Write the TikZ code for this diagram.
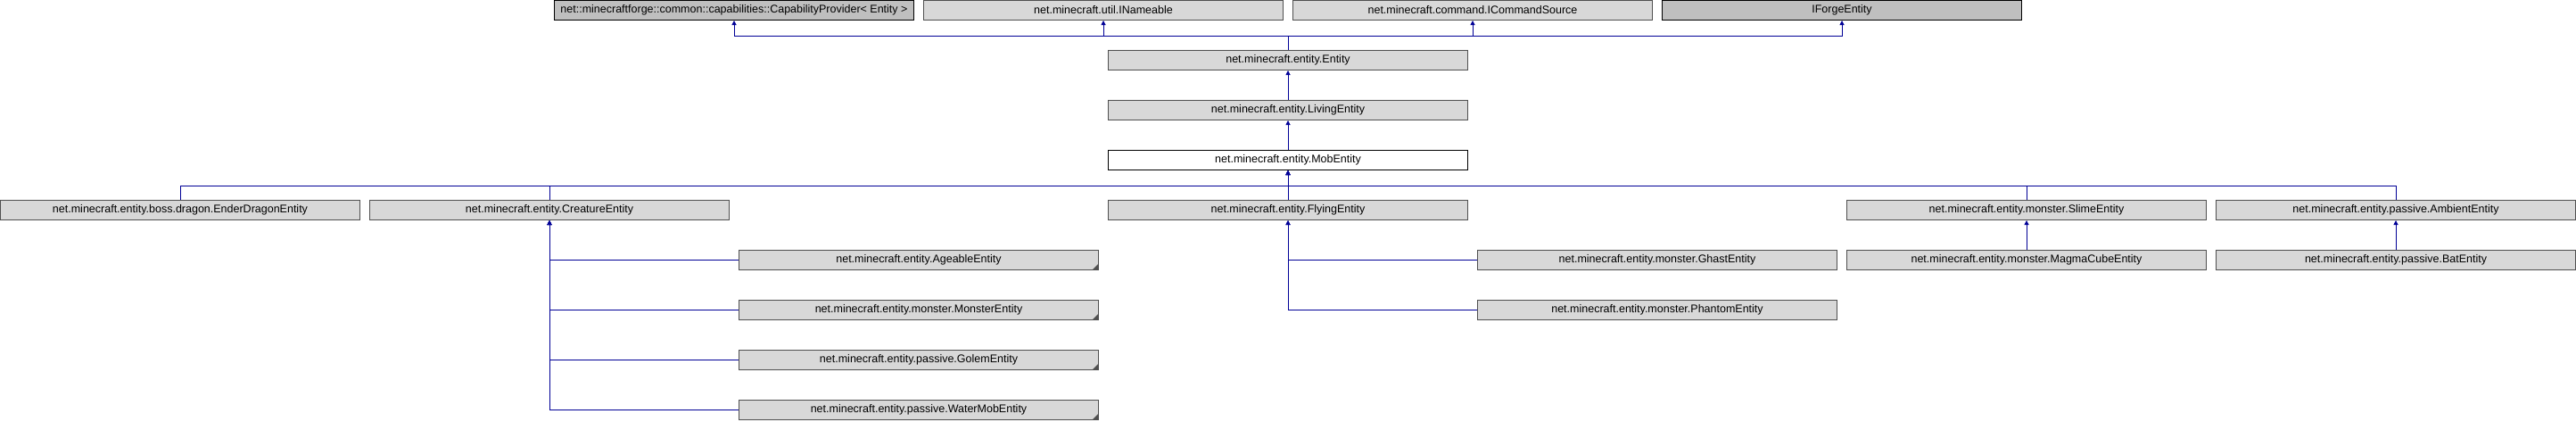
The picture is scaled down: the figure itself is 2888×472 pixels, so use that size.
\documentclass[tikz,border=0pt]{standalone}
\usepackage{fontspec}
\setmainfont{Liberation Sans}
\usetikzlibrary{arrows.meta}
\definecolor{edgeblue}{RGB}{0,0,150}
\definecolor{boxfill}{RGB}{216,216,216}
\definecolor{extfill}{RGB}{191,191,191}
\definecolor{boxline}{RGB}{80,80,80}

\begin{document}
\begin{tikzpicture}[x=1pt,y=-1pt,
  cls/.style={rectangle, minimum width=403pt, minimum height=22pt, inner sep=0pt,
    fill=boxfill, draw=boxline, line width=1pt, font=\fontsize{12.5}{14}\selectfont},
  ext/.style={cls, fill=extfill, draw=black},
  cur/.style={cls, fill=white, draw=black},
  cut/.style={cls, path picture={\fill[boxline] (path picture bounding box.south east)
    -- ++(-7pt,0) -- ++(7pt,7pt) -- cycle;}},
  inh/.style={edgeblue, line width=1pt},
  tip/.style={inh, -{Triangle[width=5pt,length=5pt]}}]
\useasboundingbox (0,0) rectangle (2888,472);

% base classes
\node[ext] (cap) at (823,11.5) {net::minecraftforge::common::capabilities::CapabilityProvider< Entity >};
\node[cls] (nameable) at (1237,11.5) {net.minecraft.util.INameable};
\node[cls] (cmdsrc) at (1651,11.5) {net.minecraft.command.ICommandSource};
\node[ext] (forge) at (2065,11.5) {IForgeEntity};

\node[cls] (entity) at (1444,67.5) {net.minecraft.entity.Entity};
\node[cls] (living) at (1444,123.5) {net.minecraft.entity.LivingEntity};
\node[cur] (mob) at (1444,179.5) {net.minecraft.entity.MobEntity};

% subclasses
\node[cls] (dragon) at (202,235.5) {net.minecraft.entity.boss.dragon.EnderDragonEntity};
\node[cls] (creature) at (616,235.5) {net.minecraft.entity.CreatureEntity};
\node[cls] (flying) at (1444,235.5) {net.minecraft.entity.FlyingEntity};
\node[cls] (slime) at (2272,235.5) {net.minecraft.entity.monster.SlimeEntity};
\node[cls] (ambient) at (2686,235.5) {net.minecraft.entity.passive.AmbientEntity};

\node[cut] (ageable) at (1030,291.5) {net.minecraft.entity.AgeableEntity};
\node[cut] (monster) at (1030,347.5) {net.minecraft.entity.monster.MonsterEntity};
\node[cut] (golem) at (1030,403.5) {net.minecraft.entity.passive.GolemEntity};
\node[cut] (watermob) at (1030,459.5) {net.minecraft.entity.passive.WaterMobEntity};

\node[cls] (ghast) at (1858,291.5) {net.minecraft.entity.monster.GhastEntity};
\node[cls] (phantom) at (1858,347.5) {net.minecraft.entity.monster.PhantomEntity};
\node[cls] (magma) at (2272,291.5) {net.minecraft.entity.monster.MagmaCubeEntity};
\node[cls] (bat) at (2686,291.5) {net.minecraft.entity.passive.BatEntity};

% inheritance
\foreach \p in {cap,nameable,cmdsrc,forge}
  \draw[tip] (entity.north) -- ++(0,-16) -| (\p.south);
\draw[tip] (living.north) -- (entity.south);
\draw[tip] (mob.north) -- (living.south);
\foreach \c in {dragon,creature,flying,slime,ambient}
  \draw[tip] (\c.north) -- ++(0,-16) -| (mob.south);
\foreach \c in {ageable,monster,golem,watermob}
  \draw[tip] (\c.west) -| (creature.south);
\foreach \c in {ghast,phantom}
  \draw[tip] (\c.west) -| (flying.south);
\draw[tip] (magma.north) -- (slime.south);
\draw[tip] (bat.north) -- (ambient.south);

\end{tikzpicture}
\end{document}
